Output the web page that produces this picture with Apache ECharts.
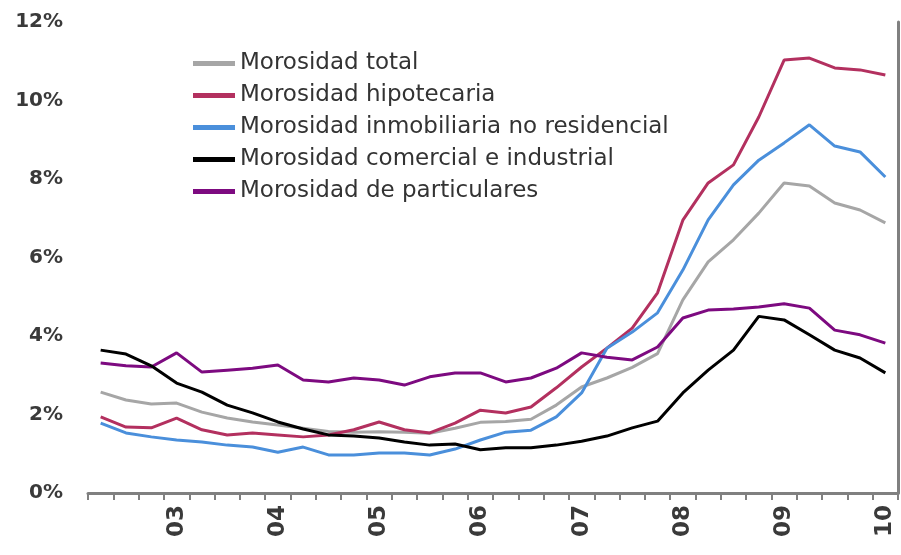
<!DOCTYPE html>
<html>
<head>
<meta charset="utf-8">
<script src="https://cdn.jsdelivr.net/npm/echarts@6/dist/echarts.min.js"></script>
<style>
  html, body { margin: 0; padding: 0; background: #fff; }
  #main { width: 901px; height: 555px; }
</style>
</head>
<body>
<div id="main"></div>
<script>
// trimestres, del II-02 al I-10
var quarters = ['II-02', 'III-02', 'IV-02',
    'I-03', 'II-03', 'III-03', 'IV-03',
    'I-04', 'II-04', 'III-04', 'IV-04',
    'I-05', 'II-05', 'III-05', 'IV-05',
    'I-06', 'II-06', 'III-06', 'IV-06',
    'I-07', 'II-07', 'III-07', 'IV-07',
    'I-08', 'II-08', 'III-08', 'IV-08',
    'I-09', 'II-09', 'III-09', 'IV-09',
    'I-10'];

var seriesNames = ['Morosidad total', 'Morosidad hipotecaria', 'Morosidad inmobiliaria no residencial',
    'Morosidad comercial e industrial', 'Morosidad de particulares'];

var total = [2.57, 2.37, 2.27, 2.29, 2.06, 1.91, 1.81, 1.73, 1.65, 1.57, 1.55, 1.56, 1.55, 1.52, 1.65, 1.80,
    1.82, 1.88, 2.24, 2.70, 2.93, 3.20, 3.55, 4.92, 5.89, 6.45, 7.13, 7.90, 7.82, 7.39, 7.21, 6.88];
var hipotecaria = [1.94, 1.68, 1.66, 1.91, 1.61, 1.48, 1.53, 1.48, 1.43, 1.48, 1.61, 1.81, 1.61, 1.53, 1.78, 2.11,
    2.04, 2.19, 2.68, 3.21, 3.69, 4.20, 5.10, 6.95, 7.90, 8.36, 9.58, 11.03, 11.08, 10.83, 10.78, 10.65];
var inmobiliaria = [1.78, 1.53, 1.43, 1.35, 1.30, 1.22, 1.17, 1.04, 1.17, 0.97, 0.97, 1.02, 1.02, 0.97, 1.12, 1.35,
    1.55, 1.60, 1.94, 2.55, 3.69, 4.10, 4.59, 5.68, 6.96, 7.85, 8.48, 8.92, 9.38, 8.84, 8.69, 8.05];
var comercial = [3.64, 3.54, 3.24, 2.80, 2.57, 2.24, 2.04, 1.81, 1.63, 1.48, 1.45, 1.40, 1.30, 1.22, 1.25, 1.10,
    1.15, 1.15, 1.22, 1.32, 1.45, 1.66, 1.83, 2.55, 3.13, 3.64, 4.50, 4.41, 4.03, 3.64, 3.44, 3.06];
var particulares = [3.31, 3.24, 3.21, 3.57, 3.08, 3.13, 3.18, 3.26, 2.88, 2.83, 2.93, 2.88, 2.75, 2.96, 3.06, 3.06,
    2.83, 2.93, 3.18, 3.57, 3.46, 3.39, 3.72, 4.46, 4.66, 4.69, 4.74, 4.82, 4.71, 4.15, 4.03, 3.82];

var colors = ['#a6a6a6', '#b3305f', '#4a8fdb', '#000000', '#7d0a80'];
var values = [total, hipotecaria, inmobiliaria, comercial, particulares];

var series = [];
for (var i = 0; i < seriesNames.length; i++) {
    series.push({
        name: seriesNames[i],
        type: 'line',
        data: values[i],
        symbol: 'none',
        smooth: false,
        lineStyle: {color: colors[i], width: 3},
        itemStyle: {color: colors[i]},
        z: i == 3 ? 3 : 2
    });
}

var myChart = echarts.init(document.getElementById('main'));
myChart.setOption({
    animation: false,
    backgroundColor: '#fff',
    grid: {left: 88, right: 3, top: 22, bottom: 62, containLabel: false},
    legend: {
        orient: 'vertical',
        left: 188,
        top: 47,
        icon: 'rect',
        itemWidth: 42,
        itemHeight: 5,
        itemGap: 9,
        textStyle: {fontFamily: 'DejaVu Sans', fontSize: 23, lineHeight: 22, color: '#333'},
        data: seriesNames
    },
    xAxis: {
        type: 'category',
        data: quarters,
        boundaryGap: true,
        axisLine: {show: true, lineStyle: {color: '#808080', width: 3}},
        axisTick: {show: true, interval: 0, length: 7, lineStyle: {color: '#808080', width: 2}},
        axisLabel: {
            interval: 0,
            rotate: 90,
            margin: 12,
            fontFamily: 'DejaVu Sans',
            fontWeight: 'bold',
            fontSize: 23,
            color: '#3a3a3a',
            formatter: function (v) {
                return v.indexOf('I-') === 0 ? v.slice(-2) : '';
            }
        },
        splitLine: {show: false}
    },
    yAxis: [{
        type: 'value',
        min: 0,
        max: 12,
        interval: 2,
        axisLine: {show: false},
        axisTick: {show: false},
        splitLine: {show: false},
        axisLabel: {
            margin: 25,
            fontFamily: 'DejaVu Sans',
            fontWeight: 'bold',
            fontSize: 20,
            color: '#3a3a3a',
            formatter: '{value}%'
        }
    }, {
        type: 'value',
        min: 0,
        max: 12,
        interval: 2,
        position: 'right',
        axisLine: {show: true, lineStyle: {color: '#808080', width: 3}},
        axisTick: {show: false},
        splitLine: {show: false},
        axisLabel: {show: false}
    }],
    series: series
});
window.onresize = myChart.resize;
</script>
</body>
</html>
